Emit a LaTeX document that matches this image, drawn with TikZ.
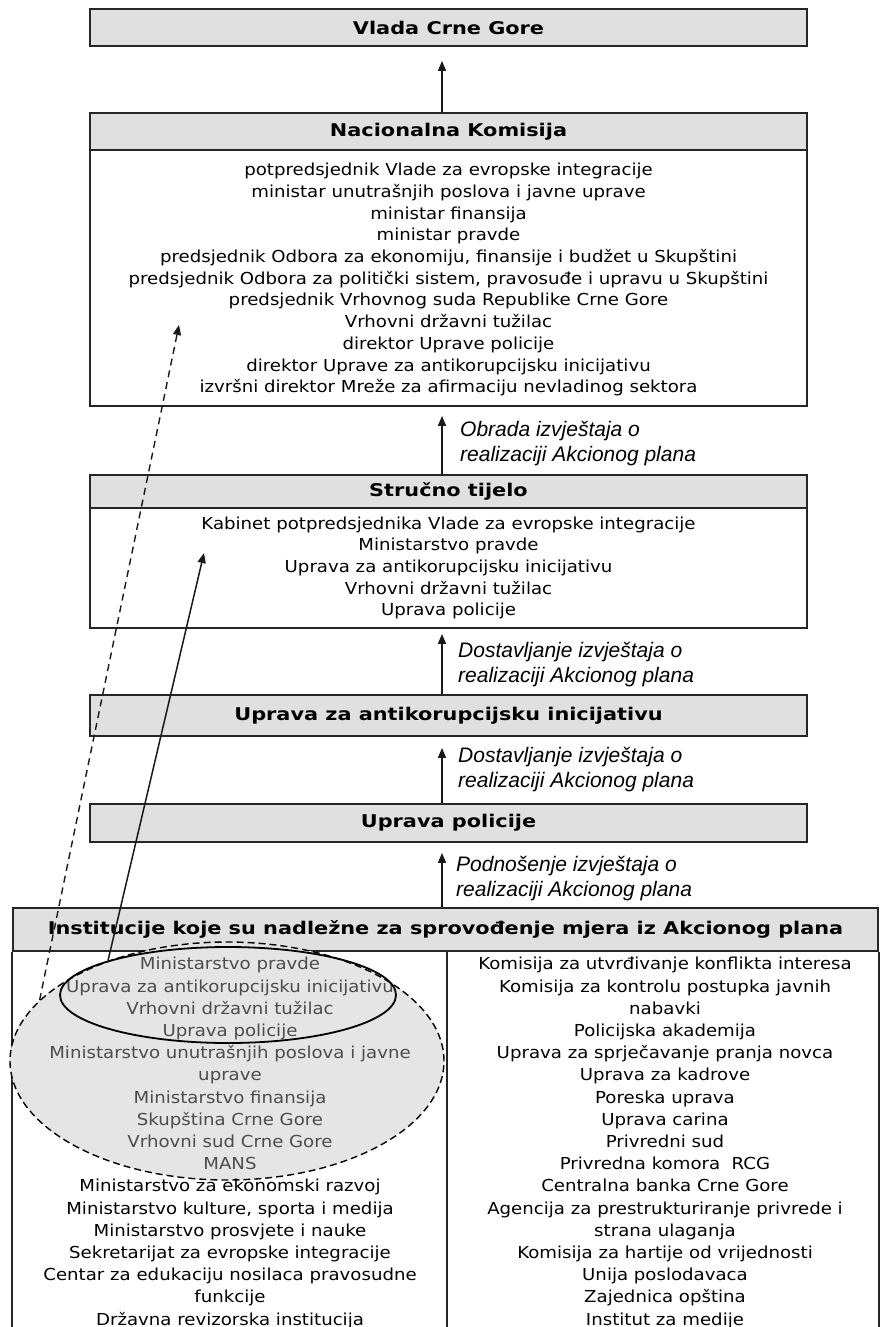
\documentclass[tikz,border=0pt]{standalone}
\usepackage{fontspec}
\setmainfont{DejaVu Sans}
\newfontfamily\bodyf[FakeStretch=1.1]{DejaVu Sans}
\newfontfamily\hdrf[FakeStretch=1.19]{DejaVu Sans}
\newfontfamily\labf{Liberation Sans}
\usetikzlibrary{arrows.meta,shapes.geometric}
\begin{document}
\begin{tikzpicture}[x=1pt,y=-1pt,
  hbox/.style={draw=black!85, line width=1.8pt, fill=black!12, inner sep=0,
    font=\hdrf\bfseries\fontsize{17.5}{20}\selectfont},
  bbox/.style={draw=black!85, line width=1.8pt, fill=white, inner sep=0, align=center,
    font=\bodyf\fontsize{16.5}{21.7}\selectfont},
  col/.style={inner sep=0, align=center, font=\bodyf\fontsize{16.5}{22.2}\selectfont},
  lab/.style={inner sep=0, anchor=west, align=left, font=\labf\itshape\fontsize{21}{25}\selectfont},
  arr/.style={line width=1.5pt, draw=black!90, -{Triangle[length=10pt,width=8pt]}},
  side/.style={line width=1.8pt, draw=black!85}
]
\useasboundingbox (0,0) rectangle (880,1327);
\coordinate (ax) at (442,0);
\coordinate (dv) at (447,0);

% main boxes
\node[hbox, minimum width=717, minimum height=37] (vlada) at (448.5,27.5) {Vlada Crne Gore};
\node[bbox, minimum width=717, minimum height=256, text depth=0pt] (nkb) at (448.5,278) {\rule{0pt}{6pt}potpredsjednik Vlade za evropske integracije\\
ministar unutrašnjih poslova i javne uprave\\
ministar finansija\\
ministar pravde\\
predsjednik Odbora za ekonomiju, finansije i budžet u Skupštini\\
predsjednik Odbora za politički sistem, pravosuđe i upravu u Skupštini\\
predsjednik Vrhovnog suda Republike Crne Gore\\
Vrhovni državni tužilac\\
direktor Uprave policije\\
direktor Uprave za antikorupcijsku inicijativu\\
izvršni direktor Mreže za afirmaciju nevladinog sektora};
\node[hbox, minimum width=717, minimum height=37] (nkh) at (448.5,131.5) {Nacionalna Komisija};

\node[bbox, minimum width=717, minimum height=120] (stb) at (448.5,568) {Kabinet potpredsjednika Vlade za evropske integracije\\
Ministarstvo pravde\\
Uprava za antikorupcijsku inicijativu\\
Vrhovni državni tužilac\\
Uprava policije};
\node[hbox, minimum width=717, minimum height=33] (sth) at (448.5,491.5) {Stručno tijelo};

\node[hbox, minimum width=717, minimum height=41] (uak) at (448.5,715.5) {Uprava za antikorupcijsku inicijativu};
\node[hbox, minimum width=717, minimum height=38] (upo) at (448.5,823) {Uprava policije};

% bottom box
\node[hbox, minimum width=865, minimum height=43] (inh) at (445.5,929.5) {Institucije koje su nadležne za sprovođenje mjera iz Akcionog plana};
\draw[side] (inh.south west) -- ++(0,420);
\draw[side] (inh.south east) -- ++(0,420);
\draw[side] (inh.south -| dv) -- ++(0,420);

% big shaded ellipse
\node[ellipse, draw=black, dash pattern=on 7pt off 4pt, line width=1.4pt, fill=black!10,
  minimum width=434, minimum height=238, inner sep=0] (bige) at (227,1061) {};

% columns
\node[col] (lcol) at (230,1143) {{\color{black!70}Ministarstvo pravde}\\
{\color{black!70}Uprava za antikorupcijsku inicijativu}\\
{\color{black!70}Vrhovni državni tužilac}\\
{\color{black!70}Uprava policije}\\
{\color{black!70}Ministarstvo unutrašnjih poslova i javne}\\
{\color{black!70}uprave}\\
{\color{black!70}Ministarstvo finansija}\\
{\color{black!70}Skupština Crne Gore}\\
{\color{black!70}Vrhovni sud Crne Gore}\\
{\color{black!70}MANS}\\
Ministarstvo za ekonomski razvoj\\
Ministarstvo kulture, sporta i medija\\
Ministarstvo prosvjete i nauke\\
Sekretarijat za evropske integracije\\
Centar za edukaciju nosilaca pravosudne\\
funkcije\\
Državna revizorska institucija};
\node[col] (rcol) at (665,1143) {Komisija za utvrđivanje konflikta interesa\\
Komisija za kontrolu postupka javnih\\
nabavki\\
Policijska akademija\\
Uprava za sprječavanje pranja novca\\
Uprava za kadrove\\
Poreska uprava\\
Uprava carina\\
Privredni sud\\
Privredna komora\ \ RCG\\
Centralna banka Crne Gore\\
Agencija za prestrukturiranje privrede i\\
strana ulaganja\\
Komisija za hartije od vrijednosti\\
Unija poslodavaca\\
Zajednica opština\\
Institut za medije};

% small solid ellipse
\node[ellipse, draw=black, line width=1.8pt, minimum width=336, minimum height=96, inner sep=0] (sme) at (228,995) {};

% vertical arrows
\draw[arr, shorten >=14pt] (nkh.north -| ax) -- (vlada.south -| ax);
\draw[arr, shorten >=9pt] (sth.north -| ax) -- (nkb.south -| ax);
\draw[arr, shorten >=5pt] (uak.north -| ax) -- (stb.south -| ax);
\draw[arr, shorten >=11pt] (upo.north -| ax) -- (uak.south -| ax);
\draw[arr, shorten >=10pt] (inh.north -| ax) -- (upo.south -| ax);

% labels
\node[lab] (l1) at (460,443.5) {Obrada izvještaja o\\realizaciji Akcionog plana};
\node[lab] (l2) at (458,665) {Dostavljanje izvještaja o\\realizaciji Akcionog plana};
\node[lab] (l3) at (458,769.5) {Dostavljanje izvještaja o\\realizaciji Akcionog plana};
\node[lab] (l4) at (456,879) {Podnošenje izvještaja o\\realizaciji Akcionog plana};

% diagonal arrows
\coordinate (t1) at (204,553);
\coordinate (t2) at (179,325);
\draw[arr] (sme.164) -- (t1);
\draw[arr, line width=1.4pt, dash pattern=on 7pt off 5pt] (bige.162) -- (t2);
\end{tikzpicture}
\end{document}
